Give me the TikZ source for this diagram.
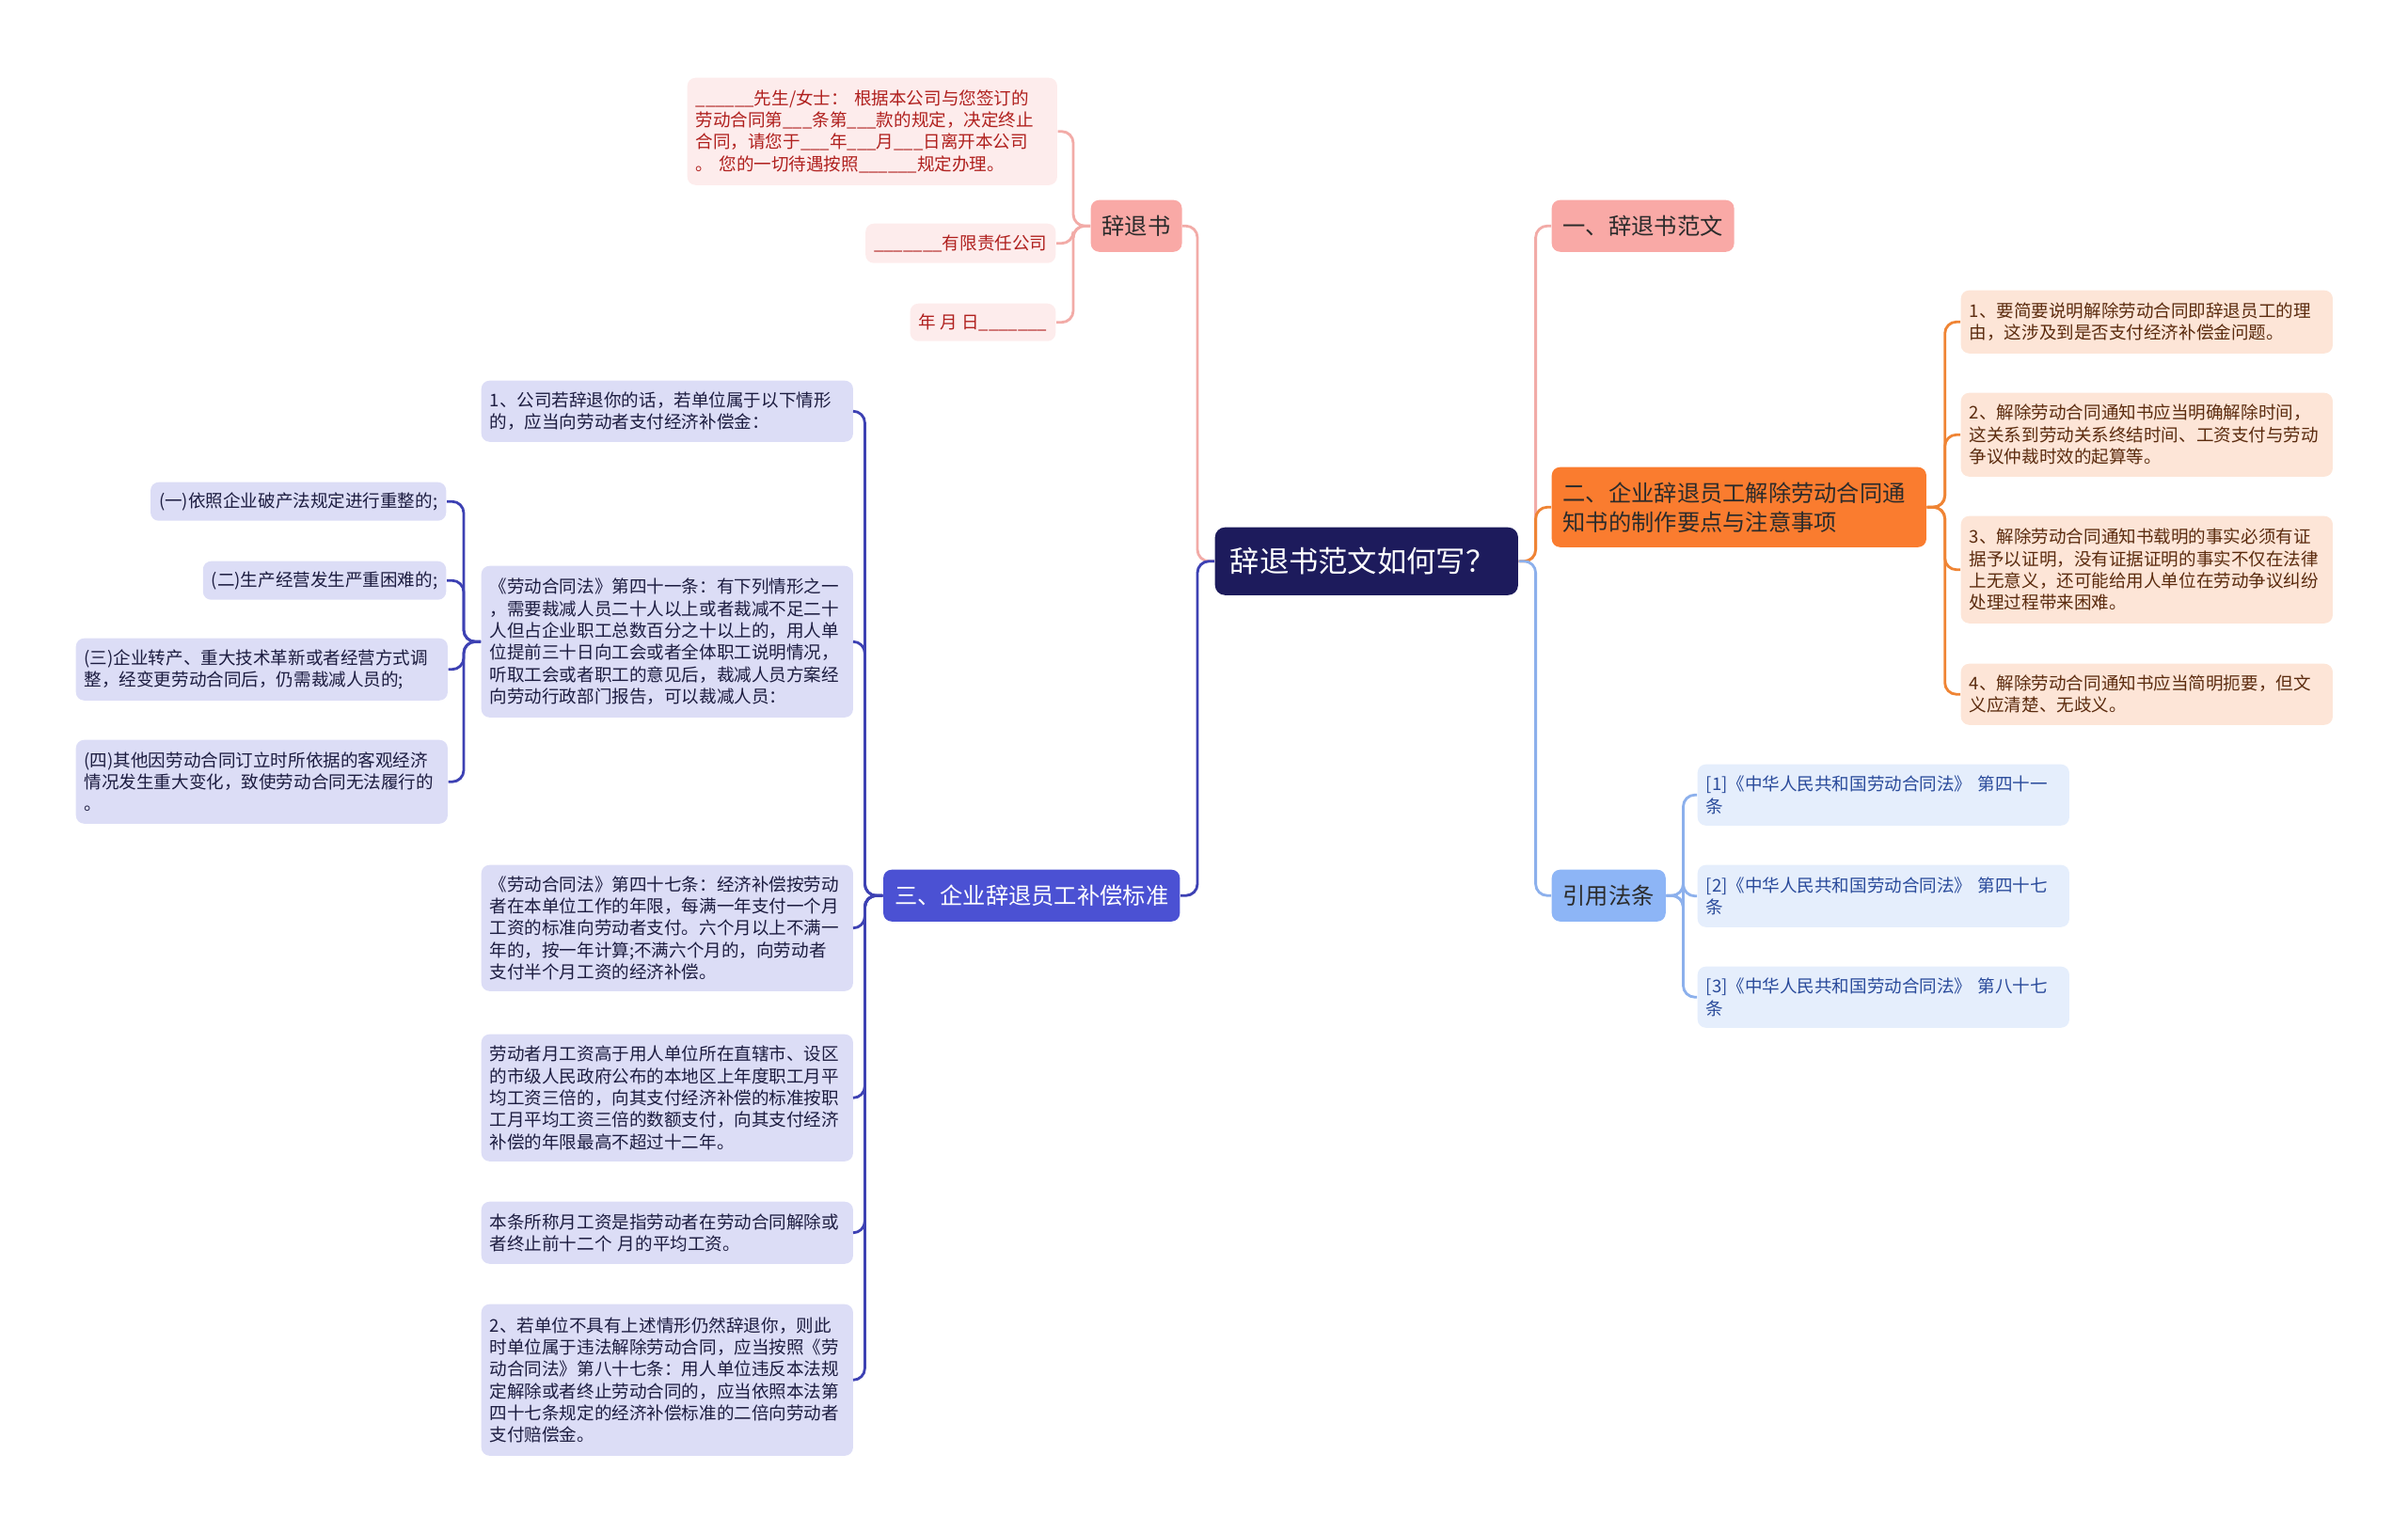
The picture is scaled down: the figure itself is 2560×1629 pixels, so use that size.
\documentclass[tikz,border=0pt]{standalone}
\usepackage{fontspec}
\setmainfont{Noto Sans CJK SC}
\usepackage{tikz}
\definecolor{rootfill}{HTML}{1D1B5C}
\definecolor{darktext}{HTML}{2B2B2B}
\definecolor{pinkfill}{HTML}{F9A9A6}
\definecolor{pinkleaf}{HTML}{FDECEC}
\definecolor{pinkline}{HTML}{F2ABA7}
\definecolor{pinktext}{HTML}{B0201E}
\definecolor{orangefill}{HTML}{FA7C2F}
\definecolor{orangeleaf}{HTML}{FDE5D7}
\definecolor{orangeline}{HTML}{EF8434}
\definecolor{orangetext}{HTML}{5B2B0E}
\definecolor{indigofill}{HTML}{4B51D3}
\definecolor{indigoleaf}{HTML}{DCDDF6}
\definecolor{indigoline}{HTML}{3D41B3}
\definecolor{indigotext}{HTML}{1C1C40}
\definecolor{bluefill}{HTML}{8DB5F6}
\definecolor{blueleaf}{HTML}{E5EEFC}
\definecolor{blueline}{HTML}{8CB0EC}
\definecolor{bluetext}{HTML}{2A4B9B}

\begin{document}
\begin{tikzpicture}[x=0.01cm, y=-0.01cm,
  every node/.style={inner ysep=0pt, rounded corners=2.5pt},
  root/.style={fill=rootfill, text=white, font=\fontsize{8.9pt}{10pt}\selectfont,
    inner xsep=0.16cm, text width=2.9cm, align=left, minimum height=0.72cm, rounded corners=3pt},
  topic/.style={font=\fontsize{6.9pt}{8.8pt}\selectfont, text=darktext,
    inner xsep=0.12cm, minimum height=0.55cm},
  leaf/.style={font=\fontsize{5.28pt}{6.63pt}\selectfont, inner xsep=0.09cm},
  wide/.style={text width=3.77cm, align=left},
  link/.style={line width=0.8pt, rounded corners=3.5pt}]
  \useasboundingbox (0,0) rectangle (2560,1629);

  \node[root, anchor=north west] (root) at (1291,560) {辞退书范文如何写？};

  \node[topic, fill=pinkfill, anchor=north west] (letter) at (1159,212) {辞退书};
  \node[topic, fill=indigofill, text=white, anchor=north east] (standard) at (1255,924) {三、企业辞退员工补偿标准};
  \node[topic, fill=pinkfill, anchor=north west] (sample) at (1649,212) {一、辞退书范文};
  \node[topic, fill=orangefill, text width=3.74cm, align=left, minimum height=0.85cm, anchor=north west] (points)
    at (1649,496) {二、企业辞退员工解除劳动合同通\\知书的制作要点与注意事项};
  \node[topic, fill=bluefill, anchor=north west] (laws) at (1649,924) {引用法条};

  \node[leaf, fill=pinkleaf, text=pinktext, text width=3.75cm, align=left, minimum height=1.14cm, anchor=north west] (notice)
    at (730,82) {\_\_\_\_\_\_先生/女士： 根据本公司与您签订的\\劳动合同第\_\_\_条第\_\_\_款的规定，决定终止\\合同，请您于\_\_\_年\_\_\_月\_\_\_日离开本公司\\。 您的一切待遇按照\_\_\_\_\_\_规定办理。};
  \node[leaf, fill=pinkleaf, text=pinktext, minimum height=0.42cm, anchor=north east] (company)
    at (1123,237) {\_\_\_\_\_\_\_有限责任公司};
  \node[leaf, fill=pinkleaf, text=pinktext, minimum height=0.40cm, anchor=north east] (date)
    at (1123,322) {年 月 日\_\_\_\_\_\_\_};

  \node[leaf, wide, fill=orangeleaf, text=orangetext, minimum height=0.67cm, anchor=north west] (tip1)
    at (2084,308) {1、要简要说明解除劳动合同即辞退员工的理\\由，这涉及到是否支付经济补偿金问题。};
  \node[leaf, wide, fill=orangeleaf, text=orangetext, minimum height=0.89cm, anchor=north west] (tip2)
    at (2084,417) {2、解除劳动合同通知书应当明确解除时间，\\这关系到劳动关系终结时间、工资支付与劳动\\争议仲裁时效的起算等。};
  \node[leaf, wide, fill=orangeleaf, text=orangetext, minimum height=1.14cm, anchor=north west] (tip3)
    at (2084,548) {3、解除劳动合同通知书载明的事实必须有证\\据予以证明，没有证据证明的事实不仅在法律\\上无意义，还可能给用人单位在劳动争议纠纷\\处理过程带来困难。};
  \node[leaf, wide, fill=orangeleaf, text=orangetext, minimum height=0.65cm, anchor=north west] (tip4)
    at (2084,705) {4、解除劳动合同通知书应当简明扼要，但文\\义应清楚、无歧义。};

  \node[leaf, wide, fill=blueleaf, text=bluetext, minimum height=0.65cm, anchor=north west] (law1)
    at (1804,812) {[1]《中华人民共和国劳动合同法》 第四十一\\条};
  \node[leaf, wide, fill=blueleaf, text=bluetext, minimum height=0.66cm, anchor=north west] (law2)
    at (1804,919) {[2]《中华人民共和国劳动合同法》 第四十七\\条};
  \node[leaf, wide, fill=blueleaf, text=bluetext, minimum height=0.65cm, anchor=north west] (law3)
    at (1804,1027) {[3]《中华人民共和国劳动合同法》 第八十七\\条};

  \node[leaf, wide, fill=indigoleaf, text=indigotext, minimum height=0.65cm, anchor=north west] (pay1)
    at (511,404) {1、公司若辞退你的话，若单位属于以下情形\\的，应当向劳动者支付经济补偿金：};
  \node[leaf, wide, fill=indigoleaf, text=indigotext, minimum height=1.61cm, anchor=north west] (pay2)
    at (511,601) {《劳动合同法》第四十一条：有下列情形之一\\，需要裁减人员二十人以上或者裁减不足二十\\人但占企业职工总数百分之十以上的，用人单\\位提前三十日向工会或者全体职工说明情况，\\听取工会或者职工的意见后，裁减人员方案经\\向劳动行政部门报告，可以裁减人员：};
  \node[leaf, wide, fill=indigoleaf, text=indigotext, minimum height=1.34cm, anchor=north west] (pay3)
    at (511,919) {《劳动合同法》第四十七条：经济补偿按劳动\\者在本单位工作的年限，每满一年支付一个月\\工资的标准向劳动者支付。六个月以上不满一\\年的，按一年计算;不满六个月的，向劳动者\\支付半个月工资的经济补偿。};
  \node[leaf, wide, fill=indigoleaf, text=indigotext, minimum height=1.35cm, anchor=north west] (pay4)
    at (511,1099) {劳动者月工资高于用人单位所在直辖市、设区\\的市级人民政府公布的本地区上年度职工月平\\均工资三倍的，向其支付经济补偿的标准按职\\工月平均工资三倍的数额支付，向其支付经济\\补偿的年限最高不超过十二年。};
  \node[leaf, wide, fill=indigoleaf, text=indigotext, minimum height=0.66cm, anchor=north west] (pay5)
    at (511,1277) {本条所称月工资是指劳动者在劳动合同解除或\\者终止前十二个 月的平均工资。};
  \node[leaf, wide, fill=indigoleaf, text=indigotext, minimum height=1.61cm, anchor=north west] (pay6)
    at (511,1386) {2、若单位不具有上述情形仍然辞退你，则此\\时单位属于违法解除劳动合同，应当按照《劳\\动合同法》第八十七条：用人单位违反本法规\\定解除或者终止劳动合同的，应当依照本法第\\四十七条规定的经济补偿标准的二倍向劳动者\\支付赔偿金。};

  \node[leaf, fill=indigoleaf, text=indigotext, minimum height=0.41cm, anchor=north east] (case1)
    at (475,512) {(一)依照企业破产法规定进行重整的;};
  \node[leaf, fill=indigoleaf, text=indigotext, minimum height=0.41cm, anchor=north east] (case2)
    at (475,596) {(二)生产经营发生严重困难的;};
  \node[leaf, wide, fill=indigoleaf, text=indigotext, minimum height=0.66cm, anchor=north west] (case3)
    at (80,678) {(三)企业转产、重大技术革新或者经营方式调\\整，经变更劳动合同后，仍需裁减人员的;};
  \node[leaf, wide, fill=indigoleaf, text=indigotext, minimum height=0.89cm, anchor=north west] (case4)
    at (80,786) {(四)其他因劳动合同订立时所依据的客观经济\\情况发生重大变化，致使劳动合同无法履行的\\。};

  \draw[link, pinkline] (root.west) -- ++(-18,0) |- (letter.east);
  \draw[link, indigoline] (root.west) -- ++(-18,0) |- (standard.east);
  \draw[link, pinkline] (root.east) -- ++(18,0) |- (sample.west);
  \draw[link, orangeline] (root.east) -- ++(18,0) |- (points.west);
  \draw[link, blueline] (root.east) -- ++(18,0) |- (laws.west);

  \draw[link, pinkline] (letter.west) -- ++(-18,0) |- (notice.east);
  \draw[link, pinkline] (letter.west) -- ++(-18,0) |- (company.east);
  \draw[link, pinkline] (letter.west) -- ++(-18,0) |- (date.east);

  \draw[link, orangeline] (points.east) -- ++(19,0) |- (tip1.west);
  \draw[link, orangeline] (points.east) -- ++(19,0) |- (tip2.west);
  \draw[link, orangeline] (points.east) -- ++(19,0) |- (tip3.west);
  \draw[link, orangeline] (points.east) -- ++(19,0) |- (tip4.west);

  \draw[link, blueline] (laws.east) -- ++(18,0) |- (law1.west);
  \draw[link, blueline] (laws.east) -- ++(18,0) |- (law2.west);
  \draw[link, blueline] (laws.east) -- ++(18,0) |- (law3.west);

  \draw[link, indigoline] (standard.west) -- ++(-19,0) |- (pay1.east);
  \draw[link, indigoline] (standard.west) -- ++(-19,0) |- (pay2.east);
  \draw[link, indigoline] (standard.west) -- ++(-19,0) |- (pay3.east);
  \draw[link, indigoline] (standard.west) -- ++(-19,0) |- (pay4.east);
  \draw[link, indigoline] (standard.west) -- ++(-19,0) |- (pay5.east);
  \draw[link, indigoline] (standard.west) -- ++(-19,0) |- (pay6.east);

  \draw[link, indigoline] (pay2.west) -- ++(-18,0) |- (case1.east);
  \draw[link, indigoline] (pay2.west) -- ++(-18,0) |- (case2.east);
  \draw[link, indigoline] (pay2.west) -- ++(-18,0) |- (case3.east);
  \draw[link, indigoline] (pay2.west) -- ++(-18,0) |- (case4.east);
\end{tikzpicture}
\end{document}
